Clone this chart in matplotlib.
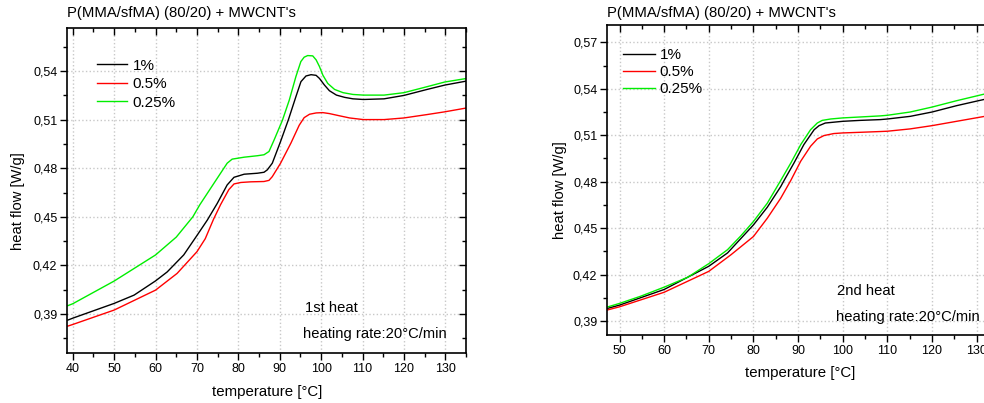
import matplotlib
matplotlib.use('Agg')
import matplotlib.pyplot as plt
from matplotlib.ticker import MultipleLocator, FuncFormatter

plt.rcParams['font.family'] = ['Liberation Sans', 'DejaVu Sans']

# 1st heat (temperature in °C, heat flow in W/g)
t1_green = [38.8, 40, 50, 60, 65, 69, 70.7, 73.3, 75.7, 77.3, 78.5, 81.4, 84.6, 86.2, 87.4,
            88.6, 90.65, 92.3, 93.9, 95.1, 95.9, 96.75, 97.97, 98.8, 99.6, 100.4, 101.6,
            103.25, 105.3, 107.7, 110.2, 115.2, 120, 125.6, 129.9, 135.2]
hf1_green = [0.3952, 0.3964, 0.4104, 0.4265, 0.4375, 0.4500, 0.4575, 0.4676, 0.4769, 0.4831,
             0.4856, 0.4868, 0.4877, 0.4883, 0.4903, 0.4972, 0.5096, 0.5220, 0.5365, 0.5458,
             0.5485, 0.5495, 0.5493, 0.5468, 0.5427, 0.5375, 0.5323, 0.5286, 0.5266, 0.5255,
             0.5251, 0.5251, 0.5266, 0.5303, 0.5332, 0.5354]
t1_black = [38.8, 40, 50, 54.8, 60, 62.8, 66.8, 70, 72.5, 74.9, 77.3, 78.95, 81.4, 84.6,
            86.2, 87.0, 88.2, 90.2, 92.1, 93.9, 95.12, 96.34, 97.56, 98.78, 99.59, 100.8,
            102.0, 103.7, 105.7, 107.7, 110.2, 115.2, 120, 125.6, 129.9, 135.2]
hf1_black = [0.3863, 0.3875, 0.3966, 0.4017, 0.4105, 0.4160, 0.4265, 0.4385, 0.4480,
             0.4583, 0.4697, 0.4744, 0.4763, 0.4769, 0.4775, 0.4790, 0.4831, 0.4965, 0.5100,
             0.5241, 0.5334, 0.5369, 0.5377, 0.5373, 0.5354, 0.5313, 0.5278, 0.5251, 0.5237,
             0.5228, 0.5224, 0.5228, 0.5249, 0.5286, 0.5313, 0.5338]
t1_red = [38.8, 40, 50, 60, 65.2, 70, 72, 74, 75.7, 77.7, 78.95, 80.6, 83, 86.2, 87.4,
          88.2, 90.2, 92.7, 94.7, 95.9, 97.2, 98.8, 100.4, 102, 104.5, 106.9, 110.2, 115.2,
          120, 125.6, 129.9, 135.2]
hf1_red = [0.3826, 0.3836, 0.3925, 0.4048, 0.4151, 0.4285, 0.4365, 0.4485, 0.4575,
           0.4668, 0.4703, 0.4712, 0.4716, 0.4718, 0.4725, 0.4748, 0.4831, 0.4955, 0.5065,
           0.5112, 0.5133, 0.5141, 0.5143, 0.5137, 0.5123, 0.5110, 0.5100, 0.5100, 0.5110,
           0.5131, 0.5148, 0.5172]

# 2nd heat
t2_green = [47.2, 50, 54.8, 60, 65.3, 70, 74.2, 77.2, 80, 83.1, 86.15, 88.4, 90.6, 92.8, 94.3,
            95.4, 97.3, 100, 103.9, 108.4, 110, 115.1, 120, 125.5, 131, 135]
hf2_green = [0.3990, 0.4014, 0.4061, 0.4119, 0.4183, 0.4271, 0.4361, 0.4451, 0.4543, 0.4661,
             0.4810, 0.4922, 0.5040, 0.5136, 0.5179, 0.5196, 0.5205, 0.5212, 0.5218, 0.5225,
             0.5229, 0.5250, 0.5282, 0.5323, 0.5361, 0.5388]
t2_black = [47.2, 50, 60, 70, 74.2, 80, 83.1, 86.1, 86.9, 89.1, 91.3, 93.6, 94.7, 96.1, 100,
            103.9, 108.4, 110, 115.1, 120, 125.5, 131, 135]
hf2_black = [0.3981, 0.4003, 0.4104, 0.4254, 0.4340, 0.4521, 0.4635, 0.4768, 0.4810, 0.4922,
             0.5040, 0.5136, 0.5162, 0.5179, 0.5190, 0.5196, 0.5201, 0.5205, 0.5222, 0.5250,
             0.5291, 0.5327, 0.5352]
t2_red = [47.2, 50, 60, 70, 75, 80, 83.1, 86.1, 88.4, 90.6, 92.8, 94.3, 95.8, 98, 100, 103.9,
          108.4, 110, 115.1, 120, 125.5, 131, 135]
hf2_red = [0.3971, 0.3992, 0.4086, 0.4221, 0.4329, 0.4446, 0.4564, 0.4693, 0.4810, 0.4933,
           0.5029, 0.5076, 0.5098, 0.5111, 0.5115, 0.5119, 0.5124, 0.5126, 0.5141, 0.5162,
           0.5190, 0.5218, 0.5238]

labels = ['1%', '0.5%', '0.25%']
colors = ['black', '#ff0000', '#00ee00']

title = "P(MMA/sfMA) (80/20) + MWCNT's"


def comma(v, pos):
    return ('%.2f' % v).replace('.', ',')


def style_axes(fig, ax, xlim, ylim):
    ax.set_xlim(*xlim)
    ax.set_ylim(*ylim)
    ax.xaxis.set_major_locator(MultipleLocator(10))
    ax.xaxis.set_minor_locator(MultipleLocator(5))
    ax.yaxis.set_major_locator(MultipleLocator(0.03))
    ax.yaxis.set_minor_locator(MultipleLocator(0.015))
    ax.yaxis.set_major_formatter(FuncFormatter(comma))
    ax.tick_params(which='major', direction='out', length=5, width=1, labelsize=9, pad=2)
    ax.tick_params(which='minor', direction='out', length=3, width=1)
    ax.grid(True, which='major', color='#c8c8c8', linestyle=':', linewidth=1)
    for s in ax.spines.values():
        s.set_linewidth(1.2)
    # mirrored ticks on top and right, pointing inwards
    m = fig.add_axes(ax.get_position(), frameon=False, sharex=ax, sharey=ax)
    m.patch.set_visible(False)
    m.tick_params(which='both', direction='in', width=1, left=False, bottom=False,
                  top=True, right=True, labelleft=False, labelbottom=False)
    m.tick_params(which='major', length=5)
    m.tick_params(which='minor', length=3)


fig = plt.figure(figsize=(9.84, 4.03), dpi=100)

# ---- 1st heat ----
ax1 = fig.add_axes([67 / 984, 1 - 353 / 403, 399 / 984, 325 / 403])
ax1.plot(t1_black, hf1_black, color=colors[0], lw=1.0, label=labels[0])
ax1.plot(t1_red, hf1_red, color=colors[1], lw=1.0, label=labels[1])
ax1.plot(t1_green, hf1_green, color=colors[2], lw=1.0, label=labels[2])
style_axes(fig, ax1, (38.6, 135), (0.366, 0.5665))
ax1.legend(loc='upper left', bbox_to_anchor=(0.075, 0.906), frameon=False, fontsize=11,
           handlelength=2.0, handletextpad=0.35, labelspacing=0.3, borderpad=0,
           borderaxespad=0)
ax1.text(0.596, 0.138, '1st heat', transform=ax1.transAxes, fontsize=10.6, va='center')
ax1.text(0.591, 0.058, 'heating rate:20°C/min', transform=ax1.transAxes, fontsize=10.6,
         va='center')
fig.text(67 / 984, 1 - 13 / 403, title, fontsize=10.7, va='center', ha='left')
fig.text(18 / 984, 1 - 201 / 403, 'heat flow [W/g]', fontsize=10.6, rotation=90,
         va='center', ha='center')
fig.text(267 / 984, 1 - 392 / 403, 'temperature [°C]', fontsize=10.8, va='center',
         ha='center')

# ---- 2nd heat ----
ax2 = fig.add_axes([607 / 984, 1 - 335 / 403, 392 / 984, 310 / 403])
ax2.plot(t2_black, hf2_black, color=colors[0], lw=1.0, label=labels[0])
ax2.plot(t2_red, hf2_red, color=colors[1], lw=1.0, label=labels[1])
ax2.plot(t2_green, hf2_green, color=colors[2], lw=1.0, label=labels[2])
style_axes(fig, ax2, (47.2, 135), (0.381, 0.5812))
ax2.legend(loc='upper left', bbox_to_anchor=(0.041, 0.925), frameon=False, fontsize=11,
           handlelength=2.1, handletextpad=0.3, labelspacing=0.2, borderpad=0,
           borderaxespad=0)
ax2.text(0.587, 0.142, '2nd heat', transform=ax2.transAxes, fontsize=10.6, va='center')
ax2.text(0.584, 0.058, 'heating rate:20°C/min', transform=ax2.transAxes, fontsize=10.6,
         va='center')
fig.text(607 / 984, 1 - 13 / 403, title, fontsize=10.7, va='center', ha='left')
fig.text(560 / 984, 1 - 190 / 403, 'heat flow [W/g]', fontsize=10.6, rotation=90,
         va='center', ha='center')
fig.text(800 / 984, 1 - 373 / 403, 'temperature [°C]', fontsize=10.8, va='center',
         ha='center')

fig.savefig('out.png', dpi=100)
